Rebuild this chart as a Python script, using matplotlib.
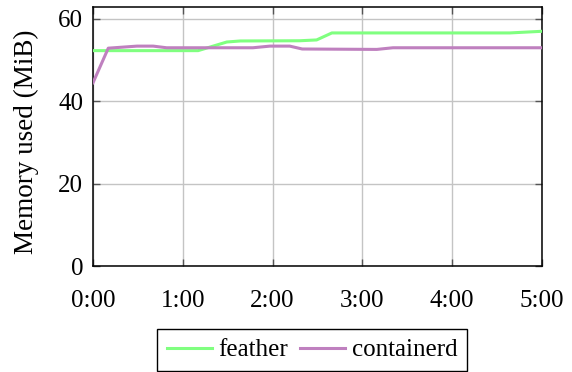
import matplotlib
matplotlib.use("Agg")
import matplotlib.pyplot as plt

plt.rcParams['font.family'] = ['Liberation Serif', 'DejaVu Serif']

# memory samples, time in minutes
feather_t = [0, 1.17, 1.49, 1.64, 2.30, 2.49, 2.66, 4.64, 5.0]
feather_mem = [52.3, 52.3, 54.4, 54.65, 54.7, 54.9, 56.6, 56.6, 57.0]

containerd_t = [0, 0.17, 0.49, 0.67, 0.82, 1.78, 1.97, 2.19, 2.33, 3.16, 3.34, 5.0]
containerd_mem = [44.5, 52.9, 53.4, 53.4, 53.0, 53.0, 53.4, 53.4, 52.7, 52.6, 53.0, 53.0]

xticks = [0, 1, 2, 3, 4, 5]
xlabels = ['0:00', '1:00', '2:00', '3:00', '4:00', '5:00']
yticks = [0, 20, 40, 60]

fs = 18

fig = plt.figure(figsize=(5.72, 3.72), dpi=100)
ax = fig.add_axes([0.1626, 0.2849, 0.785, 0.6963])

ax.plot(feather_t, feather_mem, color='#80ff80', lw=2.2, label='feather', zorder=3)
ax.plot(containerd_t, containerd_mem, color='#bf80bf', lw=2.2, label='containerd', zorder=3)

ax.set_xlim(0, 5)
ax.set_ylim(0, 62.9)
ax.set_xticks(xticks)
ax.set_xticklabels(xlabels)
ax.set_yticks(yticks)
ax.grid(True, color='#c4c4c4', lw=1.0)
ax.set_axisbelow(True)

ax.tick_params(axis='both', direction='in', length=5, width=1.0, color='#555555',
               labelsize=fs, top=True, right=True)
ax.tick_params(axis='x', pad=17)
ax.tick_params(axis='y', pad=7)
for s in ax.spines.values():
    s.set_linewidth(1.1)
    s.set_color('black')

ax.set_ylabel('Memory used (MiB)', fontsize=19.5)
ax.yaxis.set_label_coords(-0.12, 0.48)

leg = fig.legend(loc='upper center', bbox_to_anchor=(0.5455, 0.1156), ncol=2,
                 fontsize=fs, frameon=True, fancybox=False, framealpha=1,
                 edgecolor='black', handlelength=1.8, handletextpad=0.25,
                 columnspacing=0.5, borderpad=0.4, borderaxespad=0)
leg.get_frame().set_linewidth(1.0)

fig.savefig('out.png', dpi=100)
